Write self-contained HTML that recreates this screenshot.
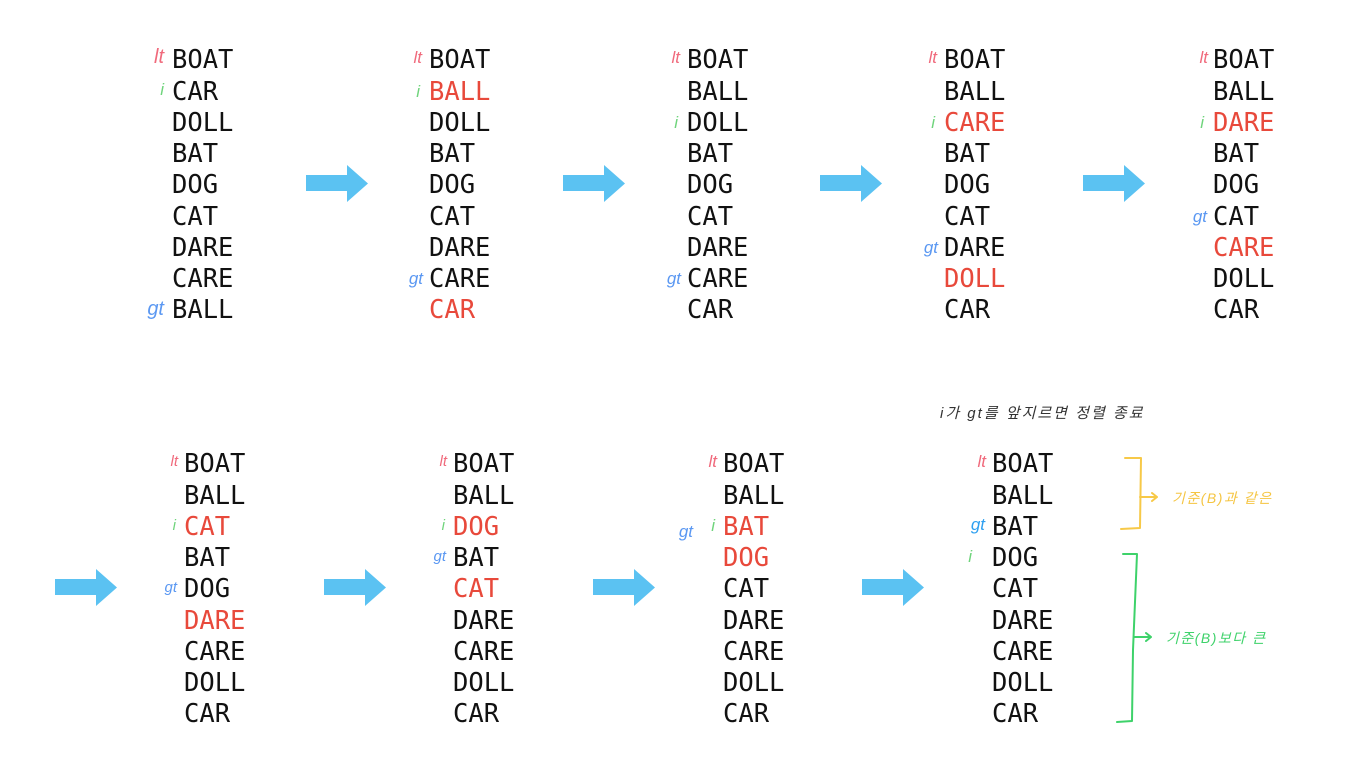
<!DOCTYPE html>
<html><head><meta charset="utf-8"><style>
html,body{margin:0;padding:0;background:#fff;}
body{width:1371px;height:767px;position:relative;overflow:hidden;font-family:"DejaVu Sans Mono",monospace;}
.col{position:absolute;font-size:25.5px;line-height:31.25px;color:#111;}
.col div{height:31.25px;white-space:nowrap;}
.r{color:#e8493b;}
.lb{position:absolute;font-family:"Liberation Sans",sans-serif;font-style:italic;font-size:17px;text-align:right;width:40px;line-height:20px;}
.lt{color:#f06a7c}.i{color:#6fd47c}.gt{color:#5b98f2}
.note{position:absolute;font-family:"Liberation Sans","Noto Sans CJK KR",sans-serif;font-style:italic;white-space:nowrap;}
</style></head><body>
<svg width="1371" height="767" style="position:absolute;left:0;top:0">
<g fill="#5bc2f2">
<polygon points="306,175 347,175 347,165 368,183.5 347,202 347,191 306,191"/>
<polygon points="563,175 604,175 604,165 625,183.5 604,202 604,191 563,191"/>
<polygon points="820,175 861,175 861,165 882,183.5 861,202 861,191 820,191"/>
<polygon points="1083,175 1124,175 1124,165 1145,183.5 1124,202 1124,191 1083,191"/>
<polygon points="55,579 96,579 96,569 117,587.5 96,606 96,595 55,595"/>
<polygon points="324,579 365,579 365,569 386,587.5 365,606 365,595 324,595"/>
<polygon points="593,579 634,579 634,569 655,587.5 634,606 634,595 593,595"/>
<polygon points="862,579 903,579 903,569 924,587.5 903,606 903,595 862,595"/>
</g>
<g fill="none" stroke-width="2" stroke-linecap="round" stroke-linejoin="round">
<path d="M1125,458 L1141,458 L1140,528 L1121,529" stroke="#f7c948"/>
<path d="M1140,497 L1156,497 M1152,493 L1157,497 L1152,501" stroke="#f7c948"/>
<path d="M1123,554 L1137,554 L1133,650 L1132,721 L1117,722" stroke="#3ed26a"/>
<path d="M1134,637 L1150,637 M1146,633 L1151,637 L1146,641" stroke="#3ed26a"/>
</g>
</svg>

<div class="note" style="left:940px;top:402px;font-size:15px;letter-spacing:2px;color:#333">i가 gt를 앞지르면 정렬 종료</div>
<div class="note" style="left:1172px;top:488px;font-size:14px;letter-spacing:1.5px;color:#f5c542">기준(B)과 같은</div>
<div class="note" style="left:1166px;top:628px;font-size:14px;letter-spacing:1.5px;color:#3ed26a">기준(B)보다 큰</div>

<!-- top row -->
<div class="col" style="left:172px;top:45.4px"><div>BOAT</div><div>CAR</div><div>DOLL</div><div>BAT</div><div>DOG</div><div>CAT</div><div>DARE</div><div>CARE</div><div>BALL</div></div>
<div class="lb lt" style="left:124px;top:47px;font-size:20px">lt</div>
<div class="lb i" style="left:124px;top:80px">i</div>
<div class="lb gt" style="left:124px;top:299px;font-size:20px">gt</div>

<div class="col" style="left:429px;top:45.4px"><div>BOAT</div><div class="r">BALL</div><div>DOLL</div><div>BAT</div><div>DOG</div><div>CAT</div><div>DARE</div><div>CARE</div><div class="r">CAR</div></div>
<div class="lb lt" style="left:382px;top:48px">lt</div>
<div class="lb i" style="left:380px;top:82px">i</div>
<div class="lb gt" style="left:383px;top:269px">gt</div>

<div class="col" style="left:687px;top:45.4px"><div>BOAT</div><div>BALL</div><div>DOLL</div><div>BAT</div><div>DOG</div><div>CAT</div><div>DARE</div><div>CARE</div><div>CAR</div></div>
<div class="lb lt" style="left:640px;top:48px">lt</div>
<div class="lb i" style="left:638px;top:113px">i</div>
<div class="lb gt" style="left:641px;top:269px">gt</div>

<div class="col" style="left:944px;top:45.4px"><div>BOAT</div><div>BALL</div><div class="r">CARE</div><div>BAT</div><div>DOG</div><div>CAT</div><div>DARE</div><div class="r">DOLL</div><div>CAR</div></div>
<div class="lb lt" style="left:897px;top:48px">lt</div>
<div class="lb i" style="left:895px;top:113px">i</div>
<div class="lb gt" style="left:898px;top:238px">gt</div>

<div class="col" style="left:1213px;top:45.4px"><div>BOAT</div><div>BALL</div><div class="r">DARE</div><div>BAT</div><div>DOG</div><div>CAT</div><div class="r">CARE</div><div>DOLL</div><div>CAR</div></div>
<div class="lb lt" style="left:1168px;top:48px">lt</div>
<div class="lb i" style="left:1164px;top:113px">i</div>
<div class="lb gt" style="left:1167px;top:207px">gt</div>

<!-- bottom row -->
<div class="col" style="left:184px;top:449.4px"><div>BOAT</div><div>BALL</div><div class="r">CAT</div><div>BAT</div><div>DOG</div><div class="r">DARE</div><div>CARE</div><div>DOLL</div><div>CAR</div></div>
<div class="lb lt" style="left:138px;top:452px;font-size:15px">lt</div>
<div class="lb i" style="left:136px;top:516px;font-size:15px">i</div>
<div class="lb gt" style="left:137px;top:578px;font-size:15px">gt</div>

<div class="col" style="left:453px;top:449.4px"><div>BOAT</div><div>BALL</div><div class="r">DOG</div><div>BAT</div><div class="r">CAT</div><div>DARE</div><div>CARE</div><div>DOLL</div><div>CAR</div></div>
<div class="lb lt" style="left:407px;top:452px;font-size:15px">lt</div>
<div class="lb i" style="left:405px;top:516px;font-size:15px">i</div>
<div class="lb gt" style="left:406px;top:547px;font-size:15px">gt</div>

<div class="col" style="left:723px;top:449.4px"><div>BOAT</div><div>BALL</div><div class="r">BAT</div><div class="r">DOG</div><div>CAT</div><div>DARE</div><div>CARE</div><div>DOLL</div><div>CAR</div></div>
<div class="lb lt" style="left:677px;top:452px">lt</div>
<div class="lb i" style="left:675px;top:516px">i</div>
<div class="lb gt" style="left:653px;top:522px">gt</div>

<div class="col" style="left:992px;top:449.4px"><div>BOAT</div><div>BALL</div><div>BAT</div><div>DOG</div><div>CAT</div><div>DARE</div><div>CARE</div><div>DOLL</div><div>CAR</div></div>
<div class="lb lt" style="left:946px;top:452px">lt</div>
<div class="lb gt" style="left:945px;top:515px;color:#2fa0f0">gt</div>
<div class="lb i" style="left:932px;top:547px">i</div>
</body></html>
